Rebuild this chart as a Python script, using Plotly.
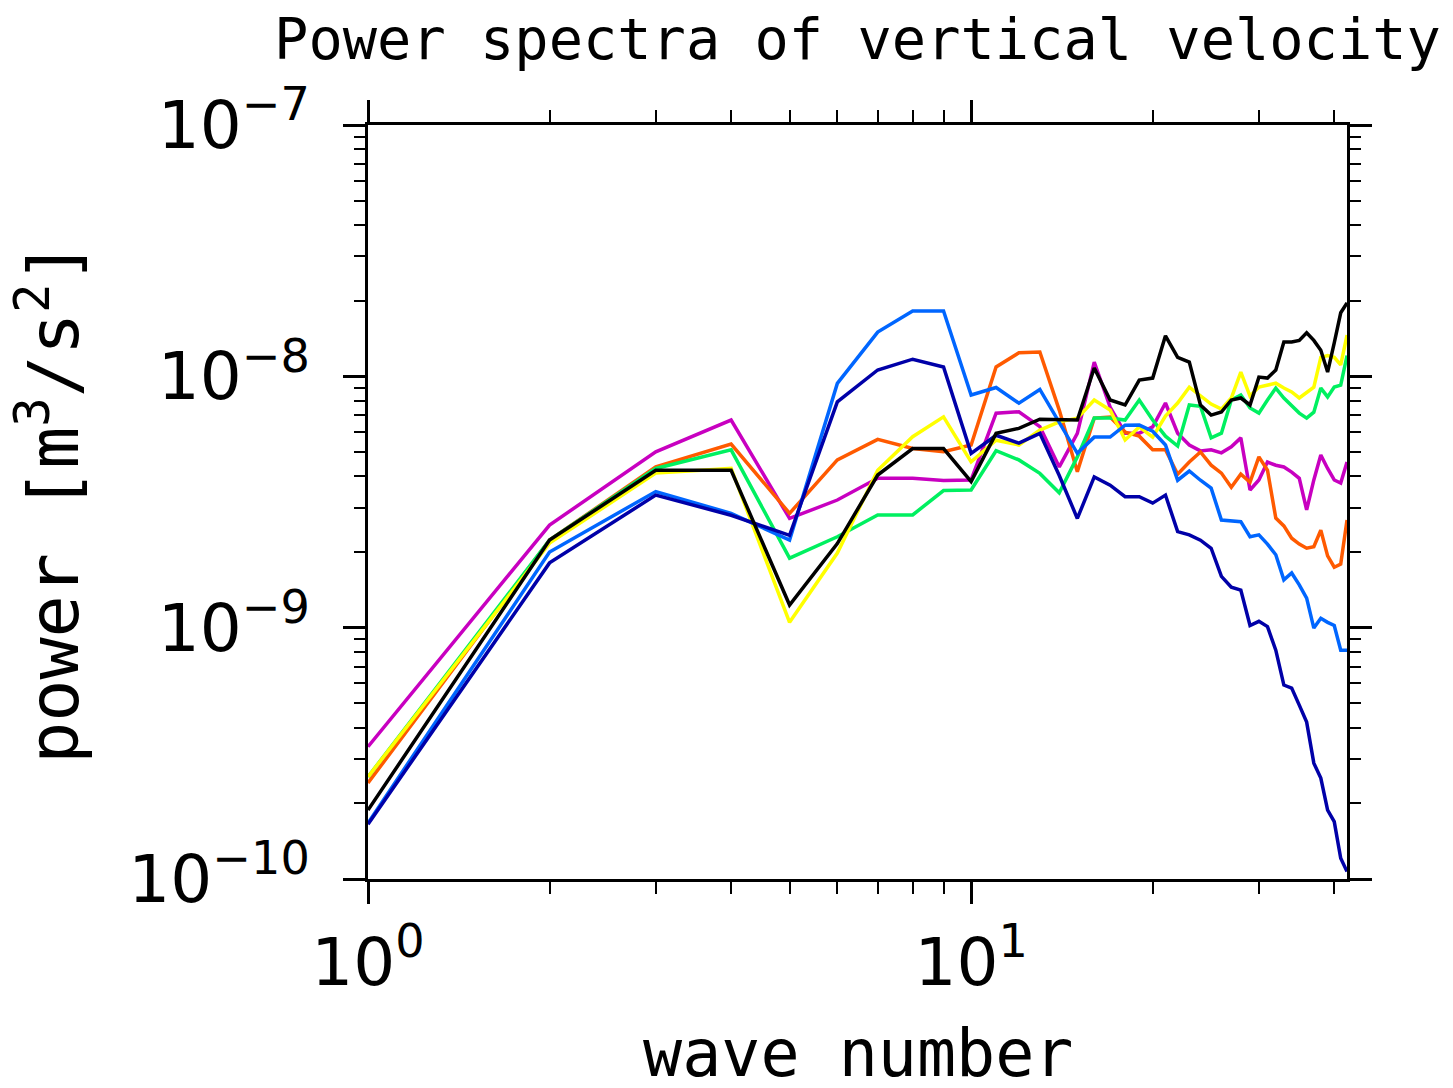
import plotly.graph_objects as go

wave_number = list(range(1, 43))

magenta = [3.36e-10, 2.56e-9, 5.01e-9, 6.70e-9, 2.72e-9, 3.22e-9, 3.93e-9, 3.93e-9, 3.85e-9, 3.87e-9,
           7.13e-9, 7.23e-9, 6.31e-9, 4.36e-9, 5.93e-9, 1.14e-8, 7.55e-9, 5.94e-9, 5.94e-9, 6.29e-9,
           7.83e-9, 5.94e-9, 5.33e-9, 5.05e-9, 5.10e-9, 4.96e-9, 5.24e-9, 5.69e-9, 3.53e-9, 3.87e-9,
           4.56e-9, 4.43e-9, 4.36e-9, 4.16e-9, 3.93e-9, 2.94e-9, 3.87e-9, 4.86e-9, 4.30e-9, 3.87e-9,
           3.76e-9, 4.56e-9]
orange = [2.41e-10, 2.23e-9, 4.36e-9, 5.38e-9, 2.85e-9, 4.65e-9, 5.61e-9, 5.16e-9, 5.01e-9, 5.33e-9,
          1.09e-8, 1.24e-8, 1.25e-8, 7.34e-9, 4.17e-9, 6.82e-9, 6.89e-9, 6.00e-9, 5.78e-9, 5.10e-9,
          5.10e-9, 4.08e-9, 4.56e-9, 5.00e-9, 4.43e-9, 4.12e-9, 3.62e-9, 4.08e-9, 3.79e-9, 4.78e-9,
          4.23e-9, 2.73e-9, 2.54e-9, 2.27e-9, 2.15e-9, 2.07e-9, 2.10e-9, 2.44e-9, 1.93e-9, 1.74e-9,
          1.79e-9, 2.68e-9]
yellow = [2.55e-10, 2.17e-9, 4.12e-9, 4.30e-9, 1.05e-9, 1.98e-9, 4.23e-9, 5.75e-9, 6.90e-9, 4.57e-9,
          5.57e-9, 5.33e-9, 6.11e-9, 6.59e-9, 6.82e-9, 8.05e-9, 7.34e-9, 5.58e-9, 6.29e-9, 5.73e-9,
          6.95e-9, 7.83e-9, 9.06e-9, 8.35e-9, 7.76e-9, 7.41e-9, 8.20e-9, 1.04e-8, 8.35e-9, 9.06e-9,
          9.22e-9, 9.39e-9, 8.98e-9, 8.67e-9, 8.20e-9, 8.67e-9, 9.06e-9, 1.19e-8, 1.21e-8, 1.19e-8,
          1.11e-8, 1.46e-8]
green = [2.55e-10, 2.23e-9, 4.30e-9, 5.10e-9, 1.89e-9, 2.30e-9, 2.81e-9, 2.81e-9, 3.51e-9, 3.53e-9,
         5.06e-9, 4.65e-9, 4.11e-9, 3.44e-9, 4.78e-9, 6.82e-9, 6.82e-9, 6.70e-9, 8.05e-9, 6.70e-9,
         5.78e-9, 5.28e-9, 7.69e-9, 7.60e-9, 5.69e-9, 5.94e-9, 8.05e-9, 8.43e-9, 7.48e-9, 7.14e-9,
         8.05e-9, 8.98e-9, 8.20e-9, 7.60e-9, 7.14e-9, 6.82e-9, 7.20e-9, 8.98e-9, 8.28e-9, 9.06e-9,
         9.22e-9, 1.21e-8]
black = [1.88e-10, 2.23e-9, 4.23e-9, 4.23e-9, 1.23e-9, 2.16e-9, 4.05e-9, 5.16e-9, 5.16e-9, 3.81e-9,
         5.93e-9, 6.21e-9, 6.75e-9, 6.70e-9, 6.70e-9, 1.08e-8, 8.05e-9, 7.69e-9, 9.66e-9, 9.84e-9,
         1.45e-8, 1.19e-8, 1.14e-8, 7.69e-9, 7.01e-9, 7.21e-9, 8.05e-9, 8.20e-9, 7.69e-9, 9.93e-9,
         9.84e-9, 1.06e-8, 1.37e-8, 1.37e-8, 1.39e-8, 1.49e-8, 1.39e-8, 1.27e-8, 1.04e-8, 1.36e-8,
         1.79e-8, 1.96e-8]
light_blue = [1.67e-10, 2.00e-9, 3.48e-9, 2.85e-9, 2.23e-9, 9.37e-9, 1.50e-8, 1.82e-8, 1.82e-8, 8.43e-9,
              9.03e-9, 7.82e-9, 8.87e-9, 6.51e-9, 4.94e-9, 5.73e-9, 5.73e-9, 6.39e-9, 6.40e-9, 6.05e-9,
              5.33e-9, 3.86e-9, 4.20e-9, 3.86e-9, 3.59e-9, 2.68e-9, 2.66e-9, 2.64e-9, 2.30e-9, 2.34e-9,
              2.15e-9, 1.95e-9, 1.55e-9, 1.65e-9, 1.48e-9, 1.31e-9, 9.96e-10, 1.09e-9, 1.05e-9, 1.02e-9,
              8.14e-10, 8.14e-10]
dark_blue = [1.65e-10, 1.81e-9, 3.37e-9, 2.80e-9, 2.33e-9, 7.92e-9, 1.06e-8, 1.17e-8, 1.09e-8, 4.94e-9,
             5.83e-9, 5.42e-9, 5.93e-9, 4.03e-9, 2.72e-9, 3.98e-9, 3.69e-9, 3.32e-9, 3.32e-9, 3.13e-9,
             3.37e-9, 2.41e-9, 2.34e-9, 2.23e-9, 2.07e-9, 1.60e-9, 1.45e-9, 1.41e-9, 1.02e-9, 1.06e-9,
             1.01e-9, 8.14e-10, 5.91e-10, 5.75e-10, 4.92e-10, 4.21e-10, 2.89e-10, 2.52e-10, 1.88e-10, 1.69e-10,
             1.21e-10, 1.07e-10]

x_tickvals = [1, 10]
x_ticktext = ["10<sup>0</sup>", "10<sup>1</sup>"]
y_tickvals = [1e-10, 1e-9, 1e-8, 1e-7]
y_ticktext = ["10<sup>−10</sup>", "10<sup>−9</sup>", "10<sup>−8</sup>", "10<sup>−7</sup>"]
x_minor = [2, 3, 4, 5, 6, 7, 8, 9, 20, 30, 40]
y_minor = [m * 10.0 ** e for e in (-10, -9, -8) for m in range(2, 10)]

series = [
    ("magenta", magenta, "#C800C0"),
    ("orange", orange, "#FF5A00"),
    ("green", green, "#00F060"),
    ("yellow", yellow, "#FFFF00"),
    ("light blue", light_blue, "#0066FF"),
    ("dark blue", dark_blue, "#0000A8"),
    ("black", black, "#000000"),
]

fig = go.Figure()
for name, vals, col in series:
    fig.add_trace(go.Scatter(x=wave_number, y=vals, mode="lines", name=name,
                             line=dict(color=col, width=3.5)))

tickfont = dict(family="DejaVu Sans", size=66, color="black")
common = dict(showline=True, linecolor="black", linewidth=3, mirror="ticks",
              ticks="outside", ticklen=22, tickwidth=3, tickcolor="black",
              showgrid=False, zeroline=False, tickfont=tickfont)

fig.update_xaxes(type="log", range=[0, 1.6232], tickvals=x_tickvals, ticktext=x_ticktext,
                 ticklabelstandoff=2,
                 minor=dict(tickvals=x_minor, ticks="outside", ticklen=12, tickwidth=2,
                            tickcolor="black", showgrid=False),
                 **common)
fig.update_yaxes(type="log", range=[-10, -7], tickvals=y_tickvals, ticktext=y_ticktext,
                 ticklabelstandoff=20,
                 minor=dict(tickvals=y_minor, ticks="outside", ticklen=11, tickwidth=2,
                            tickcolor="black", showgrid=False),
                 **common)

fig.update_layout(
    width=1453, height=1088,
    margin=dict(l=360, r=114, t=117, b=217, autoexpand=False),
    paper_bgcolor="white", plot_bgcolor="white",
    showlegend=False,
    title=dict(text="Power spectra of vertical velocity", x=0.5, xref="paper",
               y=1 - 31 / 1088, yref="container", xanchor="center", yanchor="middle",
               font=dict(family="DejaVu Sans Mono", size=57, color="black")),
    annotations=[
        dict(text="wave number", xref="paper", yref="paper", x=0.5, y=-0.232,
             xanchor="center", yanchor="middle", showarrow=False,
             font=dict(family="DejaVu Sans Mono", size=65, color="black")),
        dict(text="power [m<sup>3</sup>/s<sup>2</sup>]", xref="paper", yref="paper",
             x=-0.326, y=0.5, xanchor="center", yanchor="middle", textangle=-90,
             showarrow=False, font=dict(family="DejaVu Sans Mono", size=70, color="black")),
    ],
)

fig.write_html("out.html")
